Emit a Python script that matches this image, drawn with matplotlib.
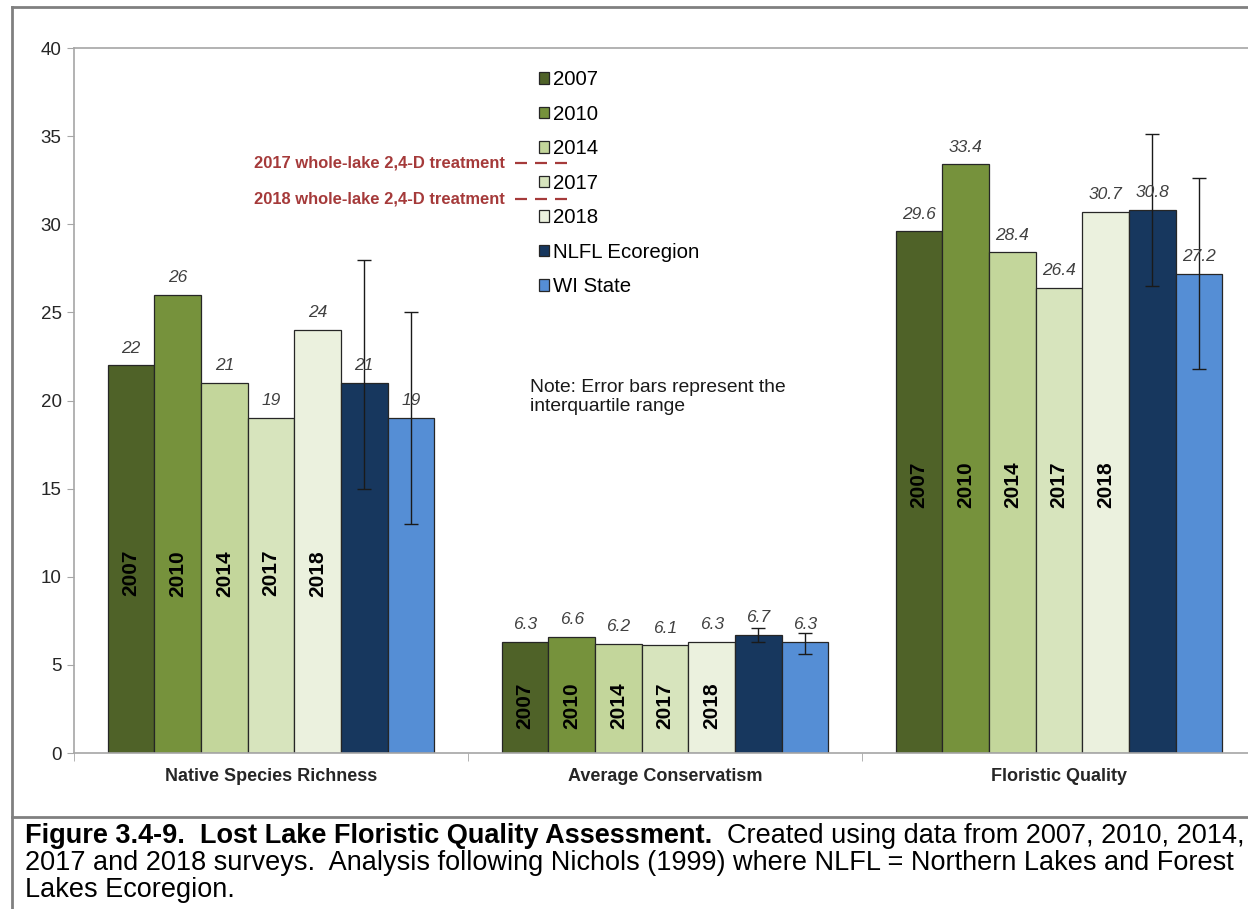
import matplotlib
matplotlib.use("Agg")
from matplotlib import pyplot as plt
from matplotlib.lines import Line2D
import numpy as np

plt.rcParams['font.family'] = ['Liberation Sans', 'DejaVu Sans']

# data
categories = ["Native Species Richness", "Average Conservatism", "Floristic Quality"]
series = ["2007", "2010", "2014", "2017", "2018", "NLFL Ecoregion", "WI State"]
colors = ["#4F6228", "#76923C", "#C3D69B", "#D7E4BD", "#EBF1DE", "#17375E", "#558ED5"]
values = [
    [22, 6.3, 29.6],
    [26, 6.6, 33.4],
    [21, 6.2, 28.4],
    [19, 6.1, 26.4],
    [24, 6.3, 30.7],
    [21, 6.7, 30.8],
    [19, 6.3, 27.2],
]
labels = [
    ["22", "6.3", "29.6"],
    ["26", "6.6", "33.4"],
    ["21", "6.2", "28.4"],
    ["19", "6.1", "26.4"],
    ["24", "6.3", "30.7"],
    ["21", "6.7", "30.8"],
    ["19", "6.3", "27.2"],
]
# interquartile ranges (low, high) for NLFL and WI
iqr_low = {"NLFL Ecoregion": [15, 6.3, 26.5], "WI State": [13, 5.6, 21.8]}
iqr_high = {"NLFL Ecoregion": [28, 7.1, 35.1], "WI State": [25, 6.8, 32.6]}
year_label_y = [10.2, 2.7, 15.2]
years = ["2007", "2010", "2014", "2017", "2018"]

fig = plt.figure(figsize=(12.48, 9.09), dpi=100)
ax = fig.add_axes([74 / 1248, 1 - 753 / 909, 1182 / 1248, 705 / 909])

x = np.arange(len(categories))
width = 0.1183
n = len(series)
for i, name in enumerate(series):
    pos = x + (i - (n - 1) / 2) * width
    bars = ax.bar(pos, values[i], width, color=colors[i], edgecolor="#262626",
                  linewidth=0.9, label=name, zorder=2)
    if name in iqr_low:
        lo = np.array(values[i]) - np.array(iqr_low[name])
        hi = np.array(iqr_high[name]) - np.array(values[i])
        ax.errorbar(pos, values[i], yerr=[lo, hi], fmt='none', ecolor="#1a1a1a",
                    elinewidth=1.0, capsize=5, capthick=1.0, zorder=3)
    for b, lab in zip(bars, labels[i]):
        ax.annotate(lab, (b.get_x() + b.get_width() / 2, b.get_height()),
                    xytext=(0, 7), textcoords="offset points", ha="center", va="bottom",
                    fontsize=12.5, style="italic", color="#404040")
    if i < len(years):
        for j, b in enumerate(bars):
            ax.text(b.get_x() + b.get_width() / 2, year_label_y[j], years[i],
                    rotation=90, ha="center", va="center", fontsize=15,
                    fontweight="bold", color="black", zorder=4)

ax.set_xlim(-0.5, 2.5)
ax.set_ylim(0, 40)
ax.set_yticks(np.arange(0, 41, 5))
ax.set_xticks(x)
ax.set_xticklabels(categories, fontsize=13, fontweight="bold", color="#262626")
ax.set_xticks([-0.5, 0.5, 1.5, 2.5], minor=True)
ax.tick_params(axis="x", which="major", length=0, pad=11)
ax.tick_params(axis="x", which="minor", length=6, color="#A6A6A6")
ax.tick_params(axis="y", length=5, color="#A6A6A6", labelsize=13.5, labelcolor="#262626", pad=4)
for s in ["left", "bottom", "top", "right"]:
    ax.spines[s].set_color("#A6A6A6")
    ax.spines[s].set_linewidth(1.2)

# legend
ax.legend(loc="upper left", bbox_to_anchor=((531 - 74) / 1182, (753 - 62) / 705),
          frameon=False, fontsize=14.7, handlelength=0.5, handleheight=0.5,
          handletextpad=0.2, labelspacing=0.76, borderaxespad=0)

# treatment annotations
treat_color = "#A53A3A"
for txt, yv in [("2017 whole-lake 2,4-D treatment", 33.47), ("2018 whole-lake 2,4-D treatment", 31.43)]:
    ax.text(-0.5 + (505 - 74) / 394, yv, txt, ha="right", va="center", fontsize=11.9,
            fontweight="bold", color=treat_color)
    ax.plot([-0.5 + (515 - 74) / 394, -0.5 + (567 - 74) / 394], [yv, yv],
            color=treat_color, linestyle=(0, (5.4, 3.6)), linewidth=1.6)

ax.text(-0.5 + (530 - 74) / 394, 20.2, "Note: Error bars represent the\ninterquartile range",
        ha="left", va="center", fontsize=13.9, color="#1a1a1a", linespacing=1.2)

# frame and caption box
frame = "#808080"
fig.add_artist(Line2D([12 / 1248, 1], [1 - 7 / 909, 1 - 7 / 909], color=frame, lw=2))
fig.add_artist(Line2D([12 / 1248, 12 / 1248], [0, 1 - 7 / 909], color=frame, lw=2))
fig.add_artist(Line2D([12 / 1248, 1], [1 - 817 / 909, 1 - 817 / 909], color=frame, lw=2))

cap_size = 19.5
t1 = fig.text(25 / 1248, 1 - 836 / 909, "Figure 3.4-9.  Lost Lake Floristic Quality Assessment.",
              fontsize=cap_size, fontweight="bold", va="center", ha="left")
fig.canvas.draw()
bb = t1.get_window_extent()
fig.text(bb.x1 / 1248, 1 - 836 / 909, "  Created using data from 2007, 2010, 2014,",
         fontsize=cap_size, va="center", ha="left")
fig.text(25 / 1248, 1 - 863 / 909,
         "2017 and 2018 surveys.  Analysis following Nichols (1999) where NLFL = Northern Lakes and Forest",
         fontsize=cap_size, va="center", ha="left")
fig.text(25 / 1248, 1 - 890 / 909, "Lakes Ecoregion.", fontsize=cap_size, va="center", ha="left")

fig.savefig("out.png", dpi=100)
